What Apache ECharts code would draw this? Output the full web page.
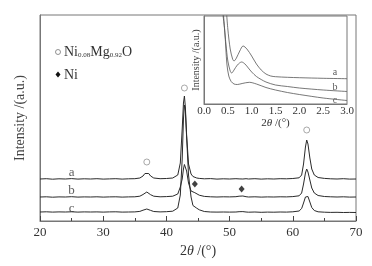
<!DOCTYPE html>
<html>
<head>
<meta charset="utf-8">
<script src="https://cdn.jsdelivr.net/npm/echarts@6/dist/echarts.min.js"></script>
<style>
  html, body { margin: 0; padding: 0; background: #fff; }
  #chart { width: 372px; height: 266px; }
</style>
</head>
<body>
<div id="chart"></div>
<script>
// main XRD patterns (intensity in arbitrary units, curves offset)
var twoTheta = [20,21,22,23,24,25,26,27,28,29,30,31,32,33,34,35,
  35.8,36.3,36.6,36.9,37.2,37.5,38,39,40,41,
  41.8,42.2,42.5,42.7,42.85,43.0,43.2,43.5,43.9,44.2,44.5,44.8,45.2,
  46,47,48,49,50,51,51.5,51.8,52.1,52.6,
  53,54,55,56,57,58,59,60,61,
  61.4,61.7,62.0,62.2,62.4,62.7,63.0,63.4,64,65,66,67,68,69,70];

var curveA = [42.0,42.3,41.8,42.2,42.0,42.4,41.9,42.2,42.0,42.3,41.9,42.1,42.3,41.9,42.2,42.3,
  43.0,45.0,47.5,49.0,47.5,45.0,43.0,42.3,42.5,43.0,
  46,58,92,118,125,114,86,57,47,44.5,43.5,43.0,42.6,
  42.2,42.4,41.9,42.2,42.0,42.3,42.1,42.2,42.0,42.3,
  42.0,42.3,41.9,42.2,42.0,42.3,42.2,42.5,43.2,
  46,57,74,81,77,63,52,46,43.5,42.6,42.2,42.0,42.3,41.9,42.0];

var curveB = [24.0,24.2,23.8,24.1,24.0,24.3,23.9,24.1,24.0,24.2,23.9,24.1,24.2,23.9,24.1,24.2,
  24.8,26.5,28.3,29.0,28.0,26.3,24.8,24.2,24.4,24.8,
  27,34,42,52,56.5,57,50,38,30,28.5,28.3,27.3,25.8,
  24.6,24.2,24.0,24.2,24.1,24.3,24.8,26.0,25.0,24.3,
  24.0,24.2,23.9,24.1,24.0,24.2,24.1,24.4,25.2,
  28,37,48,52,49,41,33,28,25.5,24.5,24.2,24.0,24.2,23.9,24.0];

var curveC = [9.0,9.2,8.9,9.1,9.0,9.2,8.9,9.1,9.0,9.1,8.9,9.1,9.2,8.9,9.0,9.1,
  9.6,10.8,11.7,12.0,11.6,10.6,9.5,9.1,9.3,9.8,
  13,26,62,102,116,110,84,46,24,15.5,13.8,12.8,11.2,
  9.5,9.0,8.9,9.0,8.9,9.0,9.3,9.8,9.4,9.0,
  8.8,9.0,8.7,8.9,8.8,9.0,8.9,9.2,10.0,
  12.5,18,24,26,24.5,19,13.5,10.5,9.2,8.8,8.6,8.7,8.5,8.6,8.5];

// phase markers
var oxidePeaks = [[36.9, 59], [42.85, 133], [62.2, 91]];
var nickelPeaks = [[44.5, 37], [51.9, 32]];
var curveNames = [[25, 48, 'a'], [25, 30, 'b'], [25, 12, 'c']];

// inset: small-angle patterns
var insetXA = [0.46,0.5,0.55,0.6,0.63,0.68,0.75,0.82,0.9,1.0,1.1,1.2,1.3,1.4,1.5,1.75,2.0,2.5,3.0];
var insetYA = [100,75,55,45,43,46,53,58,55,48,40,34,30,28,27.3,26.7,26.3,25.7,25.3];
var insetXB = [0.37,0.42,0.46,0.5,0.55,0.58,0.63,0.7,0.79,0.86,0.93,1.0,1.1,1.2,1.3,1.5,1.75,2.0,2.5,3.0];
var insetYB = [100,80,60,43,33,31,34,39,42,40,36,32,27.5,24.5,22,19,17.5,16,14,12.5];
var insetXC = [0.39,0.44,0.48,0.52,0.57,0.63,0.7,0.8,0.95,1.1,1.3,1.5,1.75,2.0,2.5,3.0];
var insetYC = [100,70,40,28,22.5,20,19.5,20.5,21.7,20,16.5,14,11.5,9.5,6,3.5];
var insetNames = [[2.75, 32, 'a'], [2.75, 17, 'b'], [2.75, 4, 'c']];

function zip(xs, ys) {
  return xs.map(function (x, i) { return [x, ys[i]]; });
}

var serif = 'Liberation Serif';
var axisGray = '#777';
var lineColor = '#2a2a2a';

var myChart = echarts.init(document.getElementById('chart'));

var option = {
  animation: false,
  backgroundColor: '#fff',
  textStyle: { fontFamily: serif },
  grid: [
    { left: 40, top: 15, right: 16, bottom: 45, show: true, borderColor: axisGray, borderWidth: 1 },
    { left: 204, top: 16, right: 25, bottom: 162, show: true, borderColor: axisGray, borderWidth: 1, backgroundColor: '#fff' }
  ],
  xAxis: [
    {
      gridIndex: 0, type: 'value', min: 20, max: 70, interval: 10,
      axisLine: { lineStyle: { color: axisGray } },
      axisTick: { inside: true, length: 5, lineStyle: { color: '#444' } },
      minorTick: { show: true, splitNumber: 2, length: 3, lineStyle: { color: '#444' } },
      splitLine: { show: false },
      axisLabel: { fontFamily: serif, fontSize: 13, color: '#333', margin: 5 },
      name: '2{i|θ} /(°)', nameLocation: 'middle', nameGap: 22,
      nameTextStyle: {
        fontFamily: serif, fontSize: 14, color: '#333',
        rich: { i: { fontFamily: serif, fontStyle: 'italic', fontSize: 14, color: '#333' } }
      }
    },
    {
      gridIndex: 1, type: 'value', min: 0, max: 3, interval: 0.5,
      axisLine: { lineStyle: { color: axisGray } },
      axisTick: { show: false },
      splitLine: { show: false },
      axisLabel: {
        fontFamily: serif, fontSize: 11, color: '#333', margin: 2,
        formatter: function (v) { return v.toFixed(1); }
      },
      name: '2{i|θ} /(°)', nameLocation: 'middle', nameGap: 14,
      nameTextStyle: {
        fontFamily: serif, fontSize: 11, color: '#333',
        rich: { i: { fontFamily: serif, fontStyle: 'italic', fontSize: 11, color: '#333' } }
      }
    }
  ],
  yAxis: [
    {
      gridIndex: 0, type: 'value', min: 0, max: 206,
      axisLine: { show: true, lineStyle: { color: axisGray } },
      axisTick: { show: false }, axisLabel: { show: false }, splitLine: { show: false },
      name: 'Intensity /(a.u.)', nameLocation: 'middle', nameGap: 13,
      nameTextStyle: { fontFamily: serif, fontSize: 14, color: '#444' }
    },
    {
      gridIndex: 1, type: 'value', min: 0, max: 88,
      axisLine: { show: true, lineStyle: { color: axisGray } },
      axisTick: { show: false }, axisLabel: { show: false }, splitLine: { show: false },
      name: 'Intensity /(a.u.)', nameLocation: 'middle', nameGap: 3,
      nameTextStyle: { fontFamily: serif, fontSize: 10, color: '#444' }
    }
  ],
  series: [
    { type: 'line', xAxisIndex: 0, yAxisIndex: 0, data: zip(twoTheta, curveA), showSymbol: false, lineStyle: { color: lineColor, width: 1 } },
    { type: 'line', xAxisIndex: 0, yAxisIndex: 0, data: zip(twoTheta, curveB), showSymbol: false, lineStyle: { color: lineColor, width: 1 } },
    { type: 'line', xAxisIndex: 0, yAxisIndex: 0, data: zip(twoTheta, curveC), showSymbol: false, lineStyle: { color: lineColor, width: 1 } },
    {
      type: 'scatter', xAxisIndex: 0, yAxisIndex: 0, data: oxidePeaks,
      symbol: 'circle', symbolSize: 6,
      itemStyle: { color: '#fff', borderColor: '#777', borderWidth: 0.8 }
    },
    {
      type: 'scatter', xAxisIndex: 0, yAxisIndex: 0, data: nickelPeaks,
      symbol: 'diamond', symbolSize: [6, 7], itemStyle: { color: '#111' }
    },
    {
      type: 'scatter', xAxisIndex: 0, yAxisIndex: 0, data: curveNames,
      symbolSize: 1, itemStyle: { color: 'transparent' },
      label: {
        show: true, position: 'inside', fontFamily: serif, fontSize: 13, color: '#333',
        formatter: function (p) { return p.data[2]; }
      }
    },
    { type: 'line', xAxisIndex: 1, yAxisIndex: 1, data: zip(insetXA, insetYA), showSymbol: false, smooth: 0.3, lineStyle: { color: '#555', width: 0.8 } },
    { type: 'line', xAxisIndex: 1, yAxisIndex: 1, data: zip(insetXB, insetYB), showSymbol: false, smooth: 0.3, lineStyle: { color: '#555', width: 0.8 } },
    { type: 'line', xAxisIndex: 1, yAxisIndex: 1, data: zip(insetXC, insetYC), showSymbol: false, smooth: 0.3, lineStyle: { color: '#555', width: 0.8 } },
    {
      type: 'scatter', xAxisIndex: 1, yAxisIndex: 1, data: insetNames,
      symbolSize: 1, itemStyle: { color: 'transparent' },
      label: {
        show: true, position: 'inside', fontFamily: serif, fontSize: 10, color: '#333',
        formatter: function (p) { return p.data[2]; }
      }
    }
  ],
  graphic: [
    { type: 'circle', shape: { cx: 58, cy: 52, r: 2.5 }, style: { fill: '#fff', stroke: '#777', lineWidth: 0.8 } },
    {
      type: 'text', left: 64, top: 45,
      style: {
        text: 'Ni{s|0.08}Mg{s|0.92}O',
        fontFamily: serif, fontSize: 14, fill: '#333',
        rich: { s: { fontFamily: serif, fontSize: 7, fill: '#333', padding: [7, 0, 0, 0] } }
      }
    },
    { type: 'polygon', shape: { points: [[58, 71.5], [60.5, 74.5], [58, 77.5], [55.5, 74.5]] }, style: { fill: '#111' } },
    { type: 'text', left: 64, top: 68, style: { text: 'Ni', fontFamily: serif, fontSize: 14, fill: '#333' } }
  ]
};

myChart.setOption(option);
</script>
</body>
</html>
